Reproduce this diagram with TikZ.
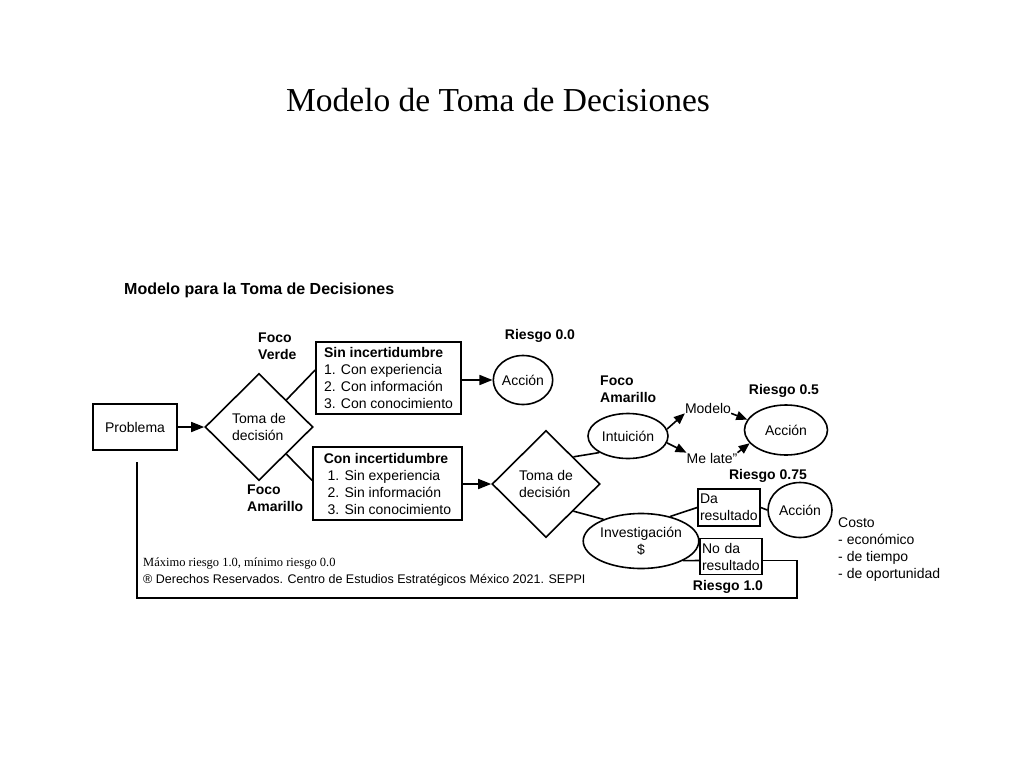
\documentclass[tikz,border=0pt]{standalone}
\usepackage{fontspec}
\setmainfont{Liberation Sans}
\newfontfamily\serifrm{Liberation Serif}
\usetikzlibrary{shapes.geometric,arrows.meta}
\begin{document}
\begin{tikzpicture}[x=1pt,y=-1pt,
  every node/.style={font=\fontsize{14}{17}\selectfont},
  ln/.style={line width=1.6pt},
  boxn/.style={draw,ln,align=left,inner sep=2pt,anchor=center},
  elln/.style={draw,ln,ellipse,inner sep=0pt,align=center},
  dian/.style={draw,ln,diamond,inner sep=0pt,align=left,minimum width=108pt,minimum height=107pt},
  lbl/.style={font=\bfseries\fontsize{14}{17}\selectfont,align=left,inner sep=0pt},
  bigarr/.style={ln,-{Triangle[length=13pt,width=10pt]}},
  smallarr/.style={ln,-{Triangle[length=11pt,width=9pt]}}]
\useasboundingbox (0,0) rectangle (1024,768);
\node[font=\serifrm\fontsize{33.5}{40}\selectfont] (title) at (498,100) {Modelo de Toma de Decisiones};
\node[font=\bfseries\fontsize{16}{19}\selectfont,anchor=west,inner sep=0pt] (head) at (124,290) {Modelo para la Toma de Decisiones};

\node[boxn,minimum width=84pt,minimum height=46pt] (prob) at (135,427) {Problema};
\node[dian] (d1) at (259,427) {Toma de\\decisión};
\node[lbl,anchor=north west] (fv) at (258,333) {Foco\\Verde};
\node[lbl,anchor=north west] (fa1) at (247,485) {Foco\\Amarillo};

\node[boxn,minimum width=145pt,minimum height=72pt] (b1) at (388.5,378) {\textbf{Sin incertidumbre}\\1. Con experiencia\\2. Con información\\3. Con conocimiento};
\node[boxn,minimum width=149pt,minimum height=73pt] (b2) at (387.5,483.5) {\textbf{Con incertidumbre}\\\ 1. Sin experiencia\\\ 2. Sin información\\\ 3. Sin conocimiento};

\node[elln,minimum width=58pt,minimum height=49pt] (a1) at (523,380) {Acción};
\node[lbl] (r0) at (540,336) {Riesgo 0.0};

\node[dian] (d2) at (546,484) {Toma de\\decisión};
\node[lbl,anchor=north west] (fa2) at (600,376) {Foco\\Amarillo};
\node[elln,minimum width=80pt,minimum height=45pt] (int) at (628,436) {Intuición};
\node[elln,minimum width=94pt,minimum height=55pt] (inv) at (641,541) {Investigación\\\$};

\node[inner sep=0pt] (mod) at (708,408) {Modelo};
\node[inner sep=0pt] (mel) at (712,458) {Me late"};
\node[elln,minimum width=83pt,minimum height=50pt] (a2) at (786,430) {Acción};
\node[lbl] (r05) at (784,391) {Riesgo 0.5};

\node[lbl] (r075) at (768,476) {Riesgo 0.75};
\node[boxn,minimum width=62pt,minimum height=37pt,inner sep=1pt,text width=58pt] (da) at (729,507.5) {Da\\resultado};
\node[elln,minimum width=64pt,minimum height=55pt] (a3) at (800,510) {Acción};
\node[boxn,minimum width=62pt,minimum height=36pt,inner sep=1pt,text width=58pt] (noda) at (731,556.5) {No da\\resultado};
\node[lbl] (r1) at (728,587) {Riesgo 1.0};

\node[anchor=north west,align=left,inner sep=0pt] (costo) at (838,518) {Costo\\- económico\\- de tiempo\\- de oportunidad};

\node[anchor=west,inner sep=0pt,font=\serifrm\fontsize{12.5}{15}\selectfont] (fn1) at (143,563) {Máximo riesgo 1.0, mínimo riesgo 0.0};
\node[anchor=west,inner sep=0pt,font=\fontsize{12.5}{15}\selectfont] (fn2) at (143,580) {® Derechos Reservados. Centro de Estudios Estratégicos México 2021. SEPPI};

% connectors
\draw[bigarr] (prob.east) -- (d1.west);
\draw[ln] (d1.north east) -- ([yshift=8pt]b1.west);
\draw[ln] (d1.south east) -- ([yshift=3pt]b2.west);
\draw[bigarr] (b1.east |- a1.west) -- (a1.west);
\draw[bigarr] (b2.east |- d2.west) -- (d2.west);
\draw[ln] (d2.north east) -- (int.210);
\draw[ln] (d2.south east) -- (inv.150);
\draw[smallarr] (int.10) -- (mod.south west);
\draw[smallarr] (int.-10) -- (mel.north west);
\draw[smallarr] (mod.south east) -- (a2.165);
\draw[smallarr] (mel.north east) -- (a2.200);
\draw[ln] (inv.40) -- (da.west);
\draw[ln] (inv.-25) -- ([yshift=-4pt]noda.west);
\draw[ln] (da.east) -- (a3.west);
\coordinate (c1) at (797,598);
\coordinate (loopend) at (137,462);
\draw[ln] ([yshift=-4pt]noda.east) -| (c1) -| (loopend);
\end{tikzpicture}
\end{document}
